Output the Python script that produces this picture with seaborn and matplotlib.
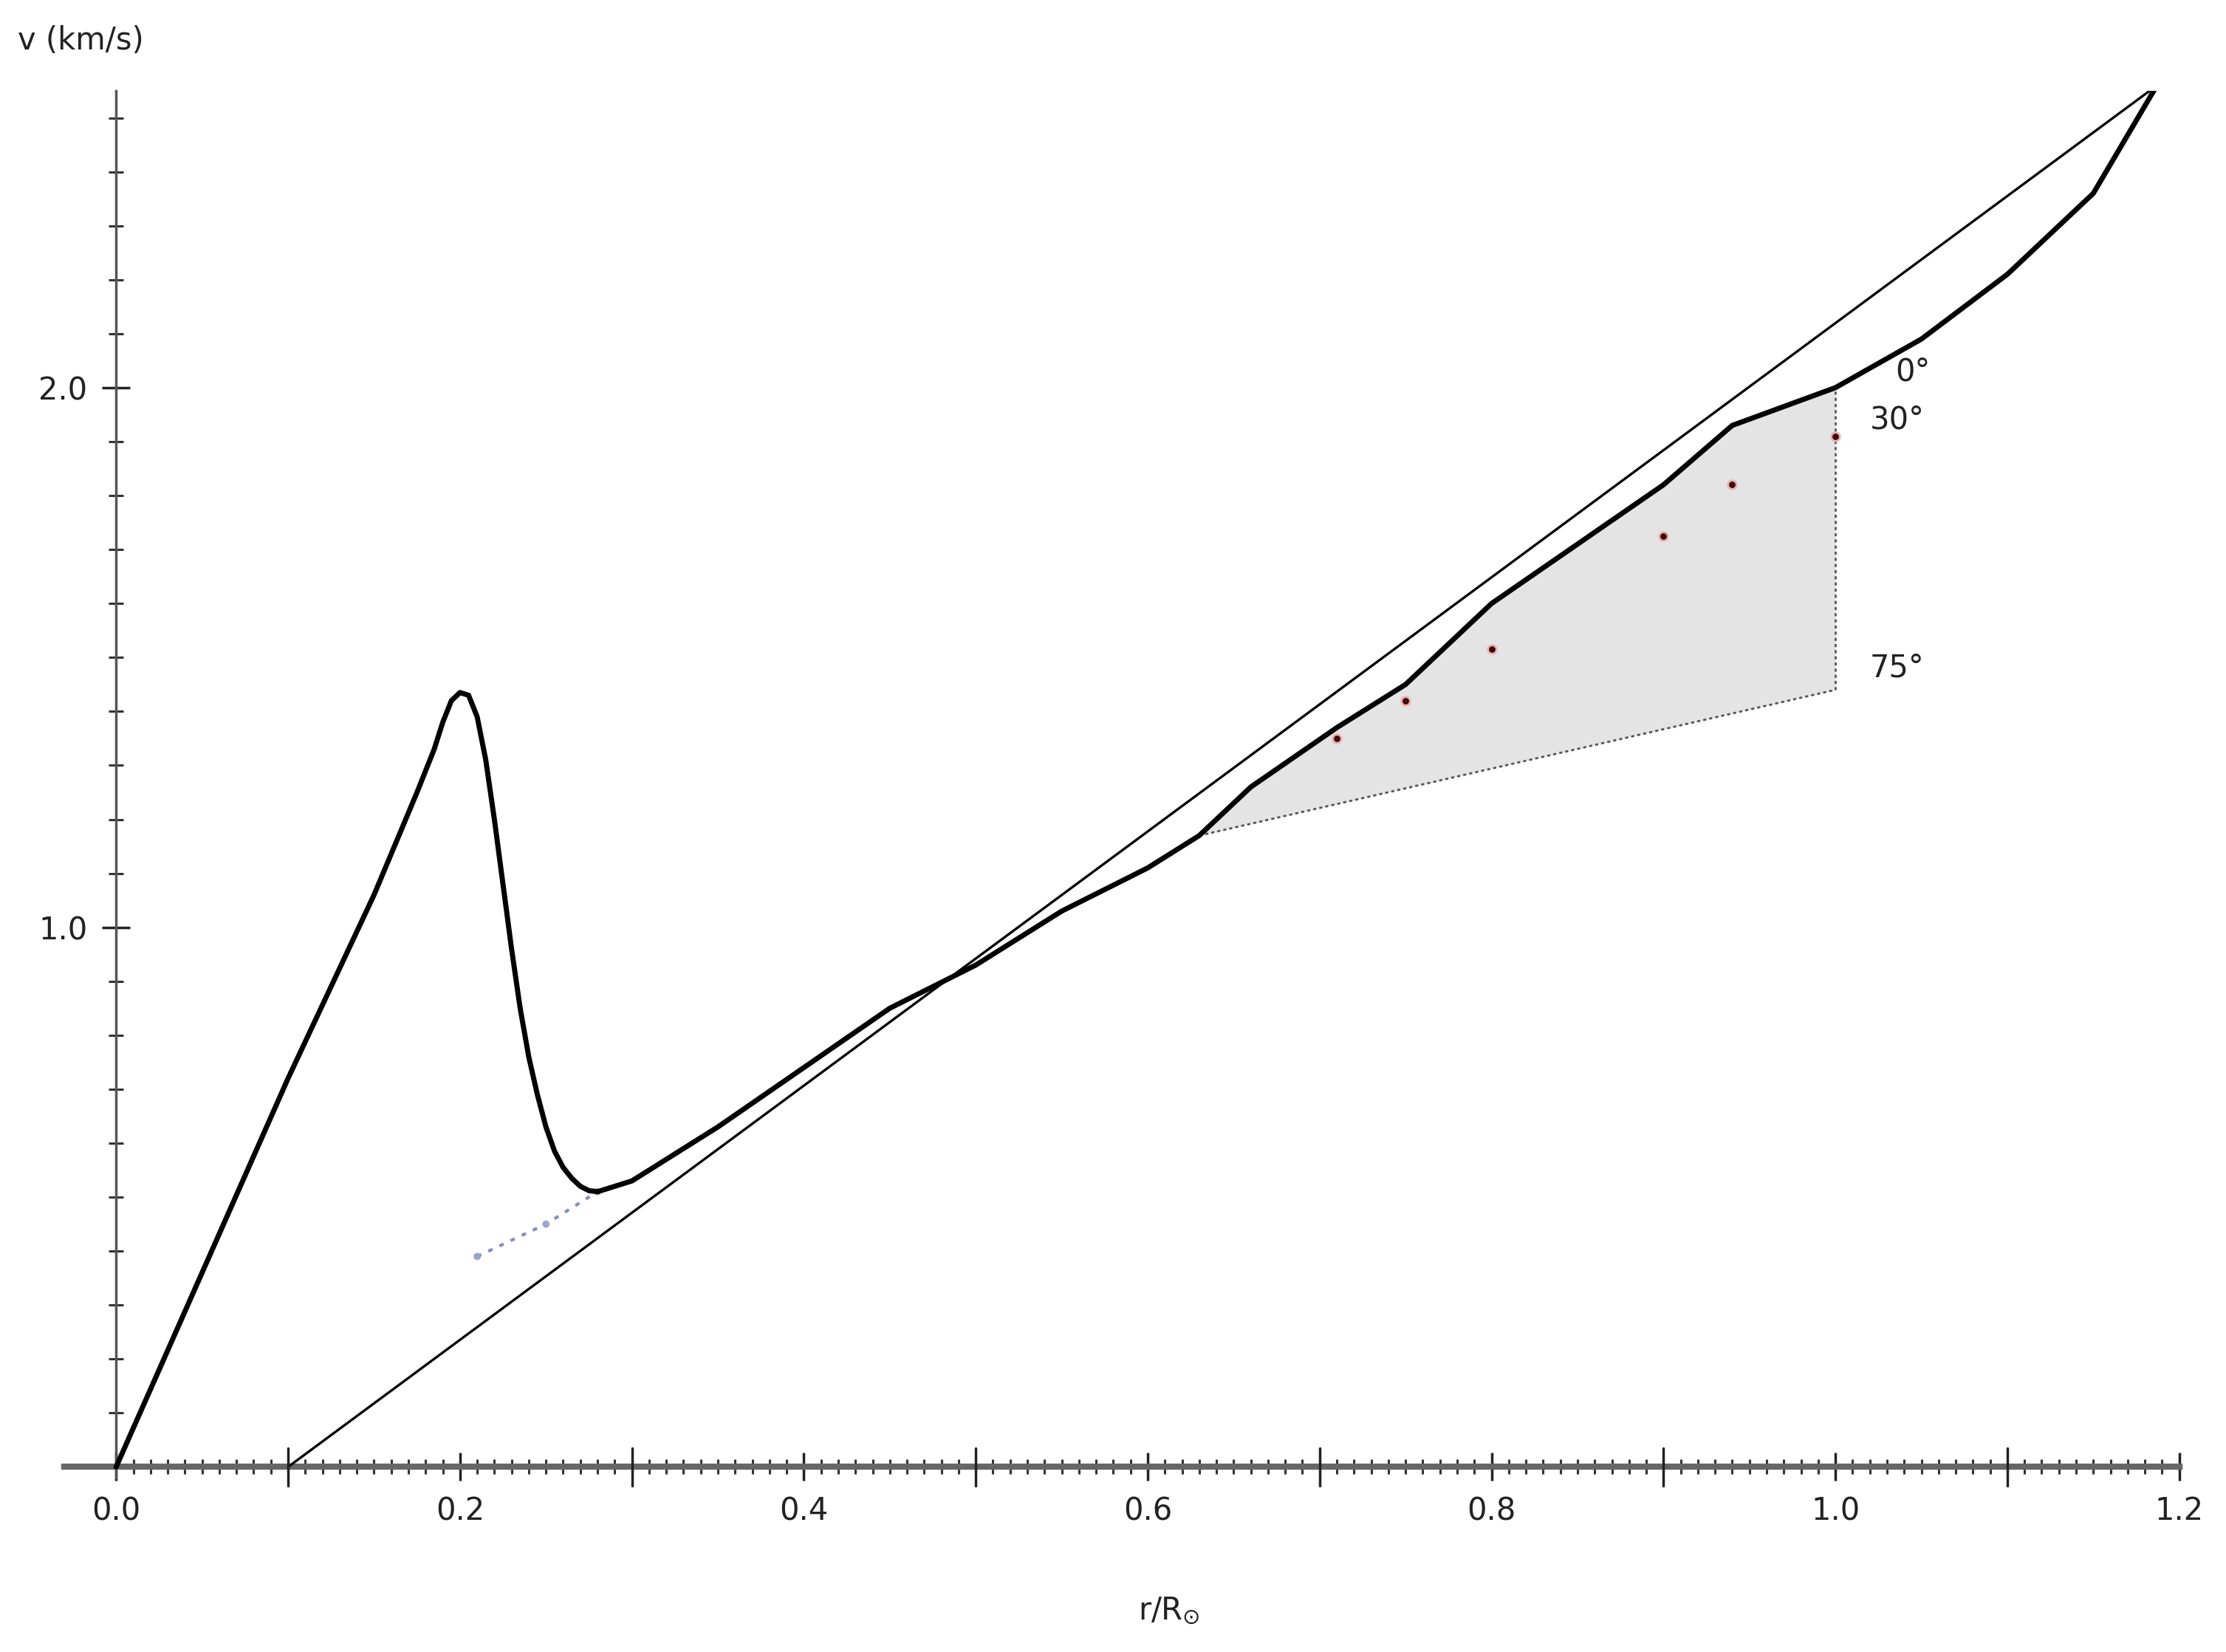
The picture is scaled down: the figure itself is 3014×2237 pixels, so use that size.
import numpy as np
import matplotlib
matplotlib.use("Agg")
import matplotlib.pyplot as plt
import seaborn as sns

# thick curve
curve_r = [0, 0.05, 0.1, 0.15, 0.175, 0.185, 0.19, 0.195, 0.2, 0.205, 0.21, 0.215, 0.22, 0.225,
           0.23, 0.235, 0.24, 0.245, 0.25, 0.255, 0.26, 0.265, 0.27, 0.275, 0.28,
           0.3, 0.35, 0.4, 0.45, 0.5, 0.55, 0.6, 0.63, 0.66, 0.71, 0.75, 0.8, 0.9, 0.94, 1.0,
           1.05, 1.1, 1.15, 1.187]
curve_v = [0, 0.36, 0.72, 1.06, 1.25, 1.33, 1.38, 1.42, 1.435, 1.43, 1.39, 1.31, 1.20, 1.08,
           0.96, 0.85, 0.76, 0.69, 0.63, 0.585, 0.555, 0.535, 0.52, 0.512, 0.51,
           0.53, 0.63, 0.74, 0.85, 0.93, 1.03, 1.11, 1.17, 1.26, 1.37, 1.45, 1.60, 1.82, 1.93, 2.0,
           2.09, 2.21, 2.36, 2.56]
# thin straight line
line_r = [0.1, 1.187]
line_v = [0.0, 2.56]
# dotted blue extension
blue_r = [0.21, 0.25, 0.28]
blue_v = [0.39, 0.45, 0.51]
# dots in the shaded area
dot_r = [0.71, 0.75, 0.8, 0.9, 0.94, 1.0]
dot_v = [1.35, 1.42, 1.515, 1.725, 1.82, 1.91]
# lower edge of the shaded area
low_r = [0.63, 1.0]
low_v = [1.17, 1.44]
angle_labels = ["0°", "30°", "75°"]
angle_v = [2.03, 1.94, 1.48]

sns.set_style("ticks")
plt.rcParams['font.family'] = ['DejaVu Sans']
fig = plt.figure(figsize=(30.14, 22.37), dpi=100)
ax = fig.add_axes([0.029, 0.1055, 0.950, 0.8395])

# shaded region
cr = np.array(curve_r); cv = np.array(curve_v)
m = (cr >= 0.63) & (cr <= 1.0)
xs = cr[m]
ax.fill_between(xs, np.interp(xs, low_r, low_v), cv[m], color="#e4e4e4", lw=0, zorder=1)
sns.lineplot(x=low_r, y=low_v, ax=ax, color="#555555", lw=2, ls=(0, (1.5, 1.5)), zorder=2)
sns.lineplot(x=[1.0, 1.0], y=[low_v[1], 2.0], ax=ax, color="#555555", lw=2, ls=(0, (1.5, 1.5)),
             orient="y", zorder=2)

sns.lineplot(x=line_r, y=line_v, ax=ax, color="black", lw=2.4, zorder=3)
sns.lineplot(x=curve_r, y=curve_v, ax=ax, color="black", lw=5, sort=False, estimator=None, zorder=4)
sns.lineplot(x=blue_r, y=blue_v, ax=ax, color="#7f8fbf", lw=3, ls=(0, (1.5, 2.5)), zorder=3)
sns.scatterplot(x=blue_r, y=blue_v, ax=ax, color="#9aa6cc", s=50, edgecolor="none", zorder=3)
sns.scatterplot(x=dot_r, y=dot_v, ax=ax, color="#3a0a0a", s=70, edgecolor="#f0b0b0", linewidth=2, zorder=5)

for lab, v in zip(angle_labels, angle_v):
    ax.text(1.02 if lab != "0°" else 1.035, v, lab, fontsize=30, va="center", ha="left", color="#222222")

ax.set_xlim(-0.03, 1.2)
ax.set_ylim(-0.02, 2.55)
for s in ["top", "right"]:
    ax.spines[s].set_visible(False)
ax.spines["left"].set_position(("data", 0))
ax.spines["bottom"].set_position(("data", 0))
ax.spines["left"].set_color("#555555")
ax.spines["bottom"].set_color("#666666")
ax.spines["left"].set_linewidth(2.5)
ax.spines["bottom"].set_linewidth(6)

ax.set_xticks(np.arange(0, 1.21, 0.2))
ax.set_xticklabels([f"{v:.1f}" for v in np.arange(0, 1.21, 0.2)])
ax.set_xticks(np.arange(0, 1.2001, 0.01), minor=True)
ax.set_yticks([1.0, 2.0])
ax.set_yticklabels(["1.0", "2.0"])
ax.set_yticks(np.arange(0.1, 2.51, 0.1), minor=True)
ax.tick_params(axis="both", which="major", direction="inout", length=28, width=2.5,
               labelsize=30, colors="#222222", pad=14)
ax.tick_params(axis="both", which="minor", direction="inout", length=14, width=2.2, colors="#333333")
# extra major tick marks every 0.1 on x
for xv in np.arange(0.1, 1.2, 0.2):
    ax.plot([xv, xv], [-0.035, 0.035], color="#222222", lw=2.5, clip_on=False, zorder=6)

fig.text(0.008, 0.985, "v (km/s)", fontsize=30, va="top", ha="left", color="#222222")
fig.text(0.525, 0.025, "r/R$_{\\odot}$", fontsize=30, ha="center", va="center", color="#222222")

fig.savefig("out.png", dpi=100)
